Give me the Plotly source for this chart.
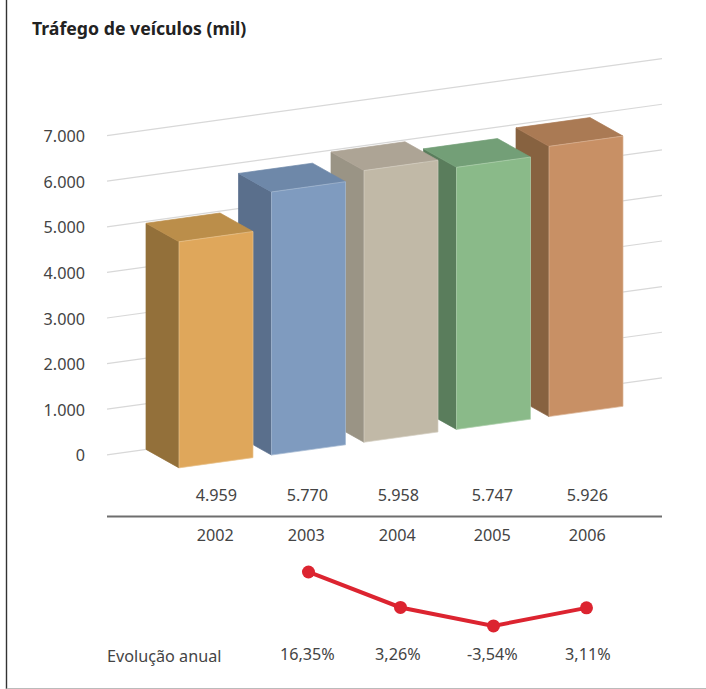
import plotly.graph_objects as go

# ---------- data ----------
years = ["2002", "2003", "2004", "2005", "2006"]
traffic = [4959, 5770, 5958, 5747, 5926]
traffic_labels = ["4.959", "5.770", "5.958", "5.747", "5.926"]
growth_years = ["2003", "2004", "2005", "2006"]
growth = [16.35, 3.26, -3.54, 3.11]
growth_labels = ["16,35%", "3,26%", "-3,54%", "3,11%"]
y_ticks = [0, 1000, 2000, 3000, 4000, 5000, 6000, 7000]
y_tick_labels = ["0", "1.000", "2.000", "3.000", "4.000", "5.000", "6.000", "7.000"]
title = "Tráfego de veículos (mil)"
growth_title = "Evolução anual"

# ---------- style ----------
front = ["#DFA75B", "#7F9BBF", "#C1B9A7", "#8ABA89", "#C89065"]
front_edge = ["#E9C48F", "#A6BAD3", "#D6D0C3", "#B0D1AF", "#DBB596"]
side = ["#93703A", "#5A6F8C", "#9A9485", "#5A7D5C", "#876240"]
top = ["#BB8E4A", "#6E88A9", "#ADA495", "#739F77", "#AA7A54"]
FONT = "Noto Sans"
TXT = "#444444"
FS = 16.2

# ---------- canvas scale ----------
W, H = 706, 689
ML = 87
SLOT = 92.5              # px per category
KV = 0.0456              # px per traffic unit
X0 = 146                 # px of first bar's back-left corner
Y0 = 454.8               # px of value 0 at the wall's left end
XRANGE = [(ML - X0) / SLOT, (W - X0) / SLOT]
YRANGE = [-(H - Y0) / KV, Y0 / KV]

# Oblique projection, in axis units
WALL_L = (107 - X0) / SLOT
WALL_R = (662 - X0) / SLOT
RISE = 0.1387 * SLOT / KV   # value units per slot
DX = 33 / SLOT
DY = 18.5 / KV
BW = 74 / SLOT


def pt(slot, v, d=0):
    return slot + d * DX, v + RISE * (slot - WALL_L) - d * DY


def face(points, color, edge=None):
    xs, ys = zip(*(pt(*p) for p in points + points[:1]))
    return go.Scatter(x=xs, y=ys, mode="lines", fill="toself", fillcolor=color,
                      line=dict(color=edge or color, width=0.7), hoverinfo="skip",
                      showlegend=False)


fig = go.Figure()

for v in y_ticks:
    xs, ys = zip(pt(WALL_L, v), pt(WALL_R, v))
    fig.add_trace(go.Scatter(x=xs, y=ys, mode="lines", hoverinfo="skip", showlegend=False,
                             line=dict(color="#D8D8D8", width=1.2)))

for i in reversed(range(len(traffic))):
    v = traffic[i]
    fig.add_trace(face([(i, 0, 0), (i, v, 0), (i, v, 1), (i, 0, 1)], side[i]))
    fig.add_trace(face([(i, v, 0), (i + BW, v, 0), (i + BW, v, 1), (i, v, 1)], top[i]))
    fig.add_trace(face([(i, 0, 1), (i, v, 1), (i + BW, v, 1), (i + BW, 0, 1)], front[i], front_edge[i]))

# Row geometry (pixel baselines converted to the value axis)
LABEL_OFFSET = 0.75
row_value = (Y0 - 497) / KV
row_year = (Y0 - 537) / KV
row_growth = (Y0 - 655.5) / KV
row_rule = (Y0 - 516.5) / KV

# Small horizontal nudges (px) of the hand-set labels in the original
value_nudge = [1, -0.5, -2, -0.5, 2]
year_nudge = [0, -1.5, -3, -0.5, 2]
growth_nudge = [-0.5, -2.5, -0.5, 2.5]
marker_nudge = [0.6, 0.1, 0.6, 1.1]


def row_x(n, first, nudge):
    return [i + first + LABEL_OFFSET + nudge[i] / SLOT for i in range(n)]


def text_row(n, first, nudge, y, labels):
    return go.Scatter(x=row_x(n, first, nudge), y=[y] * n, text=labels, mode="text",
                      textposition="middle center", hoverinfo="skip", showlegend=False,
                      textfont=dict(family=FONT, size=FS, color=TXT))


fig.add_trace(text_row(len(years), 0, value_nudge, row_value, traffic_labels))
fig.add_trace(text_row(len(years), 0, year_nudge, row_year, years))
fig.add_trace(text_row(len(growth), 1, growth_nudge, row_growth, growth_labels))

fig.add_trace(go.Scatter(x=[WALL_L, WALL_R], y=[row_rule, row_rule], mode="lines",
                         hoverinfo="skip", showlegend=False,
                         line=dict(color="#6E6E6E", width=2)))

# Growth line on its own axis
KG = 2.71
G0 = 616.3
fig.add_trace(go.Scatter(
    x=row_x(len(growth), 1, marker_nudge), y=growth, yaxis="y2",
    mode="lines+markers", hoverinfo="skip", showlegend=False,
    line=dict(color="#DC2430", width=4), marker=dict(color="#DC2430", size=13)))

fig.update_layout(
    width=W, height=H, autosize=False,
    margin=dict(l=ML, r=0, t=0, b=0, pad=0),
    paper_bgcolor="white", plot_bgcolor="white",
    showlegend=False,
    title=dict(text=f"<b>{title}</b>", x=32 / W, xref="container", xanchor="left",
               y=1 - 29 / H, yref="container", yanchor="middle",
               font=dict(family=FONT, size=17.7, color="#222222")),
    xaxis=dict(range=XRANGE, visible=False, fixedrange=True),
    yaxis=dict(range=YRANGE, showgrid=False, zeroline=False, showline=False,
               tickmode="array", tickvals=y_ticks, ticktext=y_tick_labels,
               ticks="", ticklabelstandoff=1, ticklabelshift=1,
               tickfont=dict(family=FONT, size=FS, color=TXT), fixedrange=True),
    yaxis2=dict(range=[-(H - G0) / KG, G0 / KG], overlaying="y", visible=False, fixedrange=True),
    annotations=[dict(text=growth_title, x=WALL_L, xref="x", y=row_growth, yref="y",
                      xanchor="left", yanchor="middle", showarrow=False, xshift=-2,
                      font=dict(family=FONT, size=FS, color=TXT))],
    shapes=[
        dict(type="line", xref="paper", yref="paper", x0=(6.5 - ML) / (W - ML), x1=(6.5 - ML) / (W - ML),
             y0=0, y1=1, line=dict(color="#333333", width=1.4)),
        dict(type="line", xref="paper", yref="paper", x0=(6.5 - ML) / (W - ML), x1=1,
             y0=0.5 / H, y1=0.5 / H, line=dict(color="#BBBBBB", width=1)),
    ],
)

fig.write_html("out.html", config={"displayModeBar": False},
               post_script="document.body.style.margin='0';document.documentElement.style.overflow='hidden';")
